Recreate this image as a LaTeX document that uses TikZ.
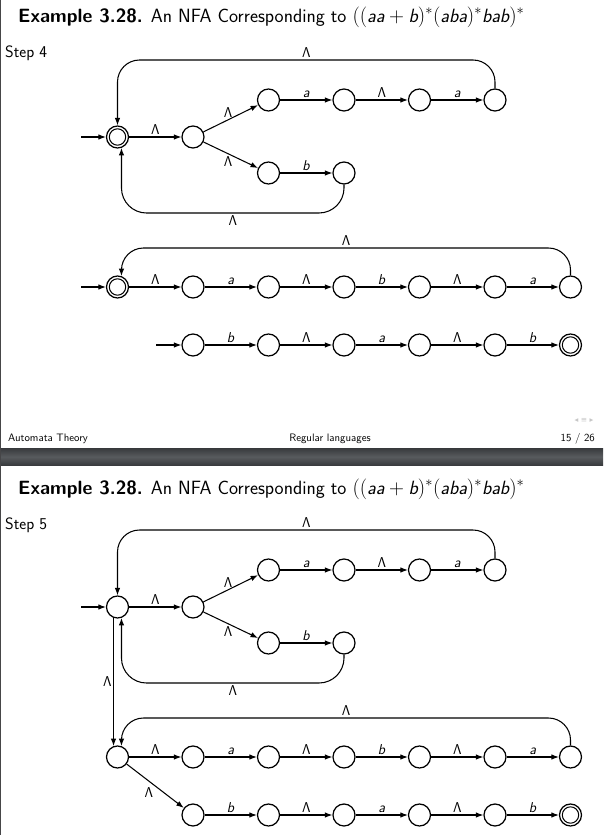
\documentclass[tikz,border=0pt]{standalone}
\usepackage{fontspec}
\newfontfamily\navfont{DejaVu Sans}
\usetikzlibrary{arrows.meta,calc}
\newcommand\mytitlefont{\fontsize{19.2}{22}\selectfont\sffamily}
\newcommand\mystepfont{\fontsize{16.5}{19}\selectfont\sffamily}
\newcommand\mylblfont{\fontsize{14.3}{16}\selectfont\sffamily}
\newcommand\myfootfont{\fontsize{10.8}{12}\selectfont\sffamily}
\newcommand\mv[1]{\textsf{\itshape #1}}
\newcommand\mytitle{\textbf{Example 3.28.} An NFA Corresponding to $((\mv{aa}+\mv{b})^*(\mv{aba})^*\mv{bab})^*$}
\definecolor{bandA}{RGB}{55,57,60}
\definecolor{bandB}{RGB}{88,91,94}
\definecolor{bordercol}{RGB}{70,70,72}
\begin{document}
\begin{tikzpicture}[x=1pt,y=-1pt,
  state/.style={draw, circle, line width=1.25pt, minimum size=22pt, inner sep=0pt},
  accept/.style={state, path picture={\draw[line width=1pt] (path picture bounding box.center) circle (8.2pt);}},
  edge/.style={-{Latex[length=7.5pt,width=5.5pt]}, line width=1.05pt},
  lbl/.style={font=\mylblfont, inner sep=2pt},
  txt/.style={anchor=base west, inner sep=0pt}]
\useasboundingbox (0,0) rectangle (603,835);
\fill[white] (0,0) rectangle (603,835);
% separator band between the two slides
\shade[top color=bandA, bottom color=bandA, middle color=bandB] (0,448) rectangle (603,465.5);
\draw[line width=1.4pt, bordercol] (0.7,0) -- (0.7,835);

% ================= slide 1 =================
\node[txt] (title1) at (18,22) {\mytitlefont\mytitle};
\node[txt] (step4) at (5,57) {\mystepfont Step 4};

\node[accept] (a0) at (117.5,137) {};
\node[state] (a1) at (193,137) {};
\node[state] (au1) at (268.5,100) {};
\node[state] (au2) at (344,100) {};
\node[state] (au3) at (419.5,100) {};
\node[state] (au4) at (495,100) {};
\node[state] (al1) at (268.5,173) {};
\node[state] (al2) at (344,173) {};
\coordinate (ain) at (81,137);
\coordinate (atop) at (0,60);
\coordinate (abot) at (0,213);
\draw[edge] (ain) -- (a0);
\draw[edge] (a0) -- node[lbl,above]{Λ} (a1);
\draw[edge] (a1) -- node[lbl,above,pos=.45]{Λ} (au1);
\draw[edge] (a1) -- node[lbl,below,pos=.45]{Λ} (al1);
\draw[edge] (au1) -- node[lbl,above]{\textit{a}} (au2);
\draw[edge] (au2) -- node[lbl,above]{Λ} (au3);
\draw[edge] (au3) -- node[lbl,above]{\textit{a}} (au4);
\draw[edge] (al1) -- node[lbl,above]{\textit{b}} (al2);
\draw[edge,rounded corners=22pt] (au4.north) -- (au4.north |- atop) -- node[lbl,above]{Λ} (a0.north |- atop) -- (a0.north);
\draw[edge,rounded corners=25pt] (al2.south) -- (al2.south |- abot) -- node[lbl,below]{Λ} (a0.290 |- abot) -- (a0.290);

\node[accept] (c0) at (117.5,287) {};
\node[state] (c1) at (193,287) {};
\node[state] (c2) at (268.5,287) {};
\node[state] (c3) at (344,287) {};
\node[state] (c4) at (419.5,287) {};
\node[state] (c5) at (495,287) {};
\node[state] (c6) at (570.5,287) {};
\coordinate (cin) at (81,287);
\coordinate (ctop) at (0,248);
\draw[edge] (cin) -- (c0);
\draw[edge] (c0) -- node[lbl,above]{Λ} (c1);
\draw[edge] (c1) -- node[lbl,above]{\textit{a}} (c2);
\draw[edge] (c2) -- node[lbl,above]{Λ} (c3);
\draw[edge] (c3) -- node[lbl,above]{\textit{b}} (c4);
\draw[edge] (c4) -- node[lbl,above]{Λ} (c5);
\draw[edge] (c5) -- node[lbl,above]{\textit{a}} (c6);
\draw[edge,rounded corners=22pt] (c6.north) -- (c6.north |- ctop) -- node[lbl,above]{Λ} (c0.70 |- ctop) -- (c0.70);

\node[state] (d1) at (193,345) {};
\node[state] (d2) at (268.5,345) {};
\node[state] (d3) at (344,345) {};
\node[state] (d4) at (419.5,345) {};
\node[state] (d5) at (495,345) {};
\node[accept] (d6) at (570.5,345) {};
\coordinate (din) at (156,345);
\draw[edge] (din) -- (d1);
\draw[edge] (d1) -- node[lbl,above]{\textit{b}} (d2);
\draw[edge] (d2) -- node[lbl,above]{Λ} (d3);
\draw[edge] (d3) -- node[lbl,above]{\textit{a}} (d4);
\draw[edge] (d4) -- node[lbl,above]{Λ} (d5);
\draw[edge] (d5) -- node[lbl,above]{\textit{b}} (d6);

\node[txt,font=\myfootfont] (foot1) at (8,441.5) {Automata Theory};
\node[anchor=base, inner sep=0pt, font=\myfootfont] (foot2) at (330,441.5) {Regular languages};
\node[anchor=base east, inner sep=0pt, font=\myfootfont] (foot3) at (595,441.5) {15 / 26};
\node[inner sep=0pt, text=gray!45, font=\navfont\fontsize{7.5}{8}\selectfont] (nav) at (584,420) {◂ ≡ ▸};

% ================= slide 2 =================
\node[txt] (title2) at (18,494.5) {\mytitlefont\mytitle};
\node[txt] (step5) at (5,529.5) {\mystepfont Step 5};

\node[state] (e0) at (117.5,607) {};
\node[state] (e1) at (193,607) {};
\node[state] (eu1) at (268.5,570) {};
\node[state] (eu2) at (344,570) {};
\node[state] (eu3) at (419.5,570) {};
\node[state] (eu4) at (495,570) {};
\node[state] (el1) at (268.5,643) {};
\node[state] (el2) at (344,643) {};
\coordinate (ein) at (81,607);
\coordinate (etop) at (0,530);
\coordinate (ebot) at (0,683);
\draw[edge] (ein) -- (e0);
\draw[edge] (e0) -- node[lbl,above]{Λ} (e1);
\draw[edge] (e1) -- node[lbl,above,pos=.45]{Λ} (eu1);
\draw[edge] (e1) -- node[lbl,below,pos=.45]{Λ} (el1);
\draw[edge] (eu1) -- node[lbl,above]{\textit{a}} (eu2);
\draw[edge] (eu2) -- node[lbl,above]{Λ} (eu3);
\draw[edge] (eu3) -- node[lbl,above]{\textit{a}} (eu4);
\draw[edge] (el1) -- node[lbl,above]{\textit{b}} (el2);
\draw[edge,rounded corners=22pt] (eu4.north) -- (eu4.north |- etop) -- node[lbl,above]{Λ} (e0.north |- etop) -- (e0.north);
\draw[edge,rounded corners=25pt] (el2.south) -- (el2.south |- ebot) -- node[lbl,below]{Λ} (e0.290 |- ebot) -- (e0.290);

\node[state] (g0) at (117.5,757) {};
\node[state] (g1) at (193,757) {};
\node[state] (g2) at (268.5,757) {};
\node[state] (g3) at (344,757) {};
\node[state] (g4) at (419.5,757) {};
\node[state] (g5) at (495,757) {};
\node[state] (g6) at (570.5,757) {};
\coordinate (gtop) at (0,718);
\draw[edge] (e0.250) -- node[lbl,left,inner sep=1.5pt]{Λ} (g0.110);
\draw[edge] (g0) -- node[lbl,above]{Λ} (g1);
\draw[edge] (g1) -- node[lbl,above]{\textit{a}} (g2);
\draw[edge] (g2) -- node[lbl,above]{Λ} (g3);
\draw[edge] (g3) -- node[lbl,above]{\textit{b}} (g4);
\draw[edge] (g4) -- node[lbl,above]{Λ} (g5);
\draw[edge] (g5) -- node[lbl,above]{\textit{a}} (g6);
\draw[edge,rounded corners=22pt] (g6.north) -- (g6.north |- gtop) -- node[lbl,above]{Λ} (g0.70 |- gtop) -- (g0.70);

\node[state] (h1) at (193,815) {};
\node[state] (h2) at (268.5,815) {};
\node[state] (h3) at (344,815) {};
\node[state] (h4) at (419.5,815) {};
\node[state] (h5) at (495,815) {};
\node[accept] (h6) at (570.5,815) {};
\draw[edge] (g0) -- node[lbl,below left,inner sep=1.5pt]{Λ} (h1);
\draw[edge] (h1) -- node[lbl,above]{\textit{b}} (h2);
\draw[edge] (h2) -- node[lbl,above]{Λ} (h3);
\draw[edge] (h3) -- node[lbl,above]{\textit{a}} (h4);
\draw[edge] (h4) -- node[lbl,above]{Λ} (h5);
\draw[edge] (h5) -- node[lbl,above]{\textit{b}} (h6);
\end{tikzpicture}
\end{document}
